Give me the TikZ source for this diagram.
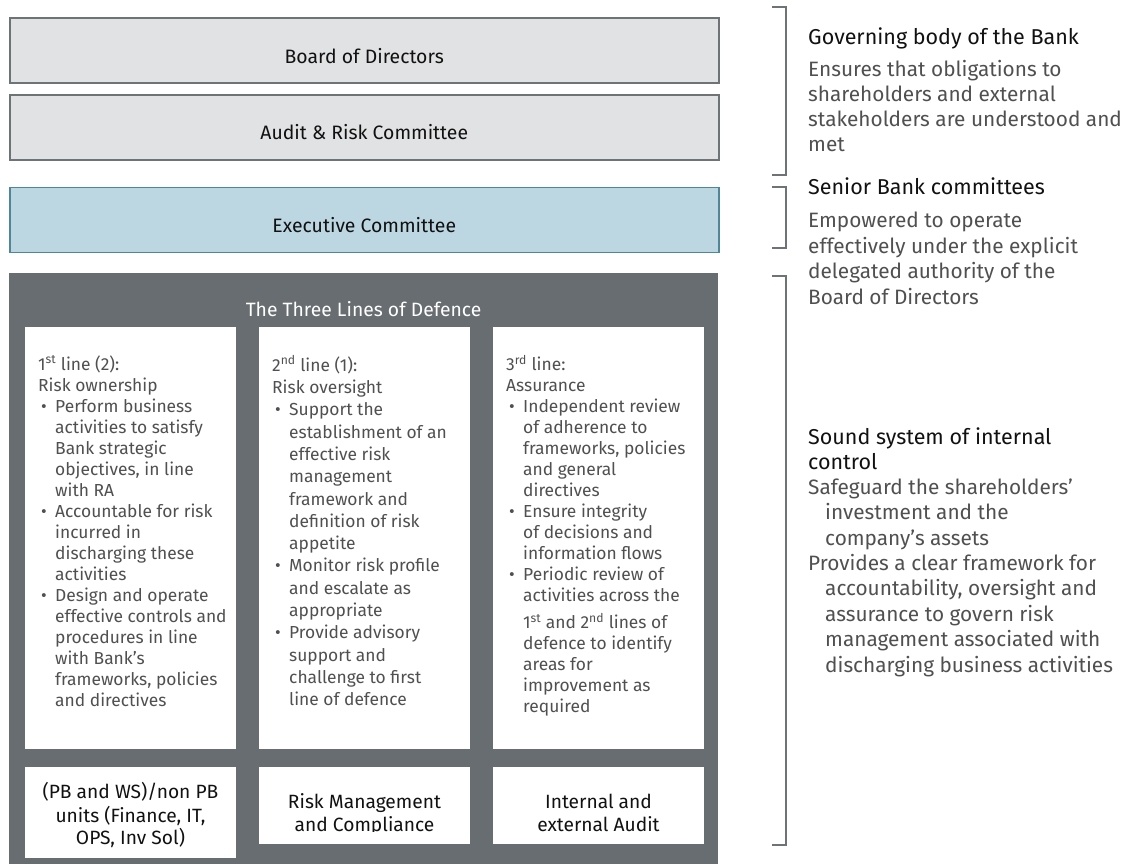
\documentclass[tikz,border=0pt]{standalone}
\usepackage{fontspec}
\setmainfont{Fira Sans}
\definecolor{boxgray}{HTML}{E1E2E4}
\definecolor{edgegray}{HTML}{6E7377}
\definecolor{execblue}{HTML}{BCD7E1}
\definecolor{execedge}{HTML}{4F8799}
\definecolor{panelgray}{HTML}{676D70}
\definecolor{bodytext}{HTML}{505050}
\definecolor{headtext}{HTML}{111111}
\newcommand\bul{\makebox[17pt][l]{\hspace*{3pt}•}}
\newcommand\ind{\hspace*{17pt}}
\newcommand\rind{\hspace*{17pt}}
\begin{document}
\begin{tikzpicture}[x=1pt,y=-1pt,
  govbox/.style={draw=edgegray, line width=1.5pt, fill=boxgray, minimum width=709pt, minimum height=65pt, anchor=north west, inner sep=0pt},
  execbox/.style={govbox, draw=execedge, fill=execblue},
  boxlabel/.style={anchor=base, inner sep=0pt, text=headtext, font=\fontsize{19.4}{22}\selectfont},
  colbox/.style={fill=white, draw=none, minimum width=211pt, anchor=north west, inner sep=0pt},
  coltext/.style={anchor=north west, inner sep=0pt, align=left, text=bodytext},
  unitlabel/.style={anchor=north, inner sep=0pt, align=center, text=headtext, font=\fontsize{19.2}{22.5}\selectfont},
  rhead/.style={anchor=base west, inner sep=0pt, align=left, text=headtext, font=\fontsize{21.5}{25}\selectfont},
  rbody/.style={anchor=north west, inner sep=0pt, align=left, text=bodytext},
  bracket/.style={draw=edgegray, line width=2pt}
]
\useasboundingbox (0,0) rectangle (1127,863);
\fill[white] (0,0) rectangle (1127,863);

% governance boxes
\node[govbox] (board) at (9,17.3) {};
\node[boxlabel] (boardlbl) at ([yshift=-13pt]board.center) {Board of Directors};
\node[govbox] (audit) at (9,94) {};
\node[boxlabel] (auditlbl) at ([yshift=-12.3pt]audit.center) {Audit \& Risk Committee};
\node[execbox] (exec) at (9,186.7) {};
\node[boxlabel] (execlbl) at ([yshift=-12.2pt]exec.center) {Executive Committee};

% dark panel
\node[fill=panelgray, draw=none, minimum width=709pt, minimum height=595pt, anchor=north west, inner sep=0pt] (panel) at (9,272.7) {};
\node[anchor=base, inner sep=0pt, text=white, font=\fontsize{19.3}{22}\selectfont] (title) at (363.5,316.7) {The Three Lines of Defence};

% columns
\node[colbox, minimum height=422pt] (c1) at (25,327) {};
\node[colbox, minimum height=422pt] (c2) at (259,327) {};
\node[colbox, minimum height=422pt] (c3) at (493,327) {};

\node[coltext, font=\fontsize{17.4}{21}\selectfont] (t1) at (38,355.3) {\strut 1\textsuperscript{st} line (2):\\
Risk ownership\\
\bul Perform business\\
\ind activities to satisfy\\
\ind Bank strategic\\
\ind objectives, in line\\
\ind with RA\\
\bul Accountable for risk\\
\ind incurred in\\
\ind discharging these\\
\ind activities\\
\bul Design and operate\\
\ind effective controls and\\
\ind procedures in line\\
\ind with Bank’s\\
\ind frameworks, policies\\
\ind and directives};

\node[coltext, font=\fontsize{17.4}{22.3}\selectfont] (t2) at (272,355.4) {\strut 2\textsuperscript{nd} line (1):\\
Risk oversight\\
\bul Support the\\
\ind establishment of an\\
\ind effective risk\\
\ind management\\
\ind framework and\\
\ind definition of risk\\
\ind appetite\\
\bul Monitor risk profile\\
\ind and escalate as\\
\ind appropriate\\
\bul Provide advisory\\
\ind support and\\
\ind challenge to first\\
\ind line of defence};

\node[coltext, font=\fontsize{17.4}{21}\selectfont] (t3) at (506,355.3) {\strut 3\textsuperscript{rd} line:\\
Assurance\\
\bul Independent review\\
\ind of adherence to\\
\ind frameworks, policies\\
\ind and general\\
\ind directives\\
\bul Ensure integrity\\
\ind of decisions and\\
\ind information flows\\
\bul Periodic review of\\
\ind activities across the\\[6pt]
\ind 1\textsuperscript{st} and 2\textsuperscript{nd} lines of\\
\ind defence to identify\\
\ind areas for\\
\ind improvement as\\
\ind required};

% unit boxes
\node[colbox, minimum height=91pt] (u1) at (25,767) {};
\node[colbox, minimum height=76.5pt] (u2) at (259,767) {};
\node[colbox, minimum height=76.5pt] (u3) at (493,767) {};
\node[unitlabel] (u1lbl) at (130.5,781.8) {\strut(PB and WS)/non PB\\units (Finance, IT,\\OPS, Inv Sol)};
\begin{scope}
\clip (250,770) rectangle (712,831.8);
\node[unitlabel] (u2lbl) at (364.5,792.8) {\strut Risk Management\\and Compliance};
\node[unitlabel] (u3lbl) at (598.5,792.8) {\strut Internal and\\external Audit};
\end{scope}

% brackets
\coordinate (br1a) at (772,7);
\coordinate (br1b) at (786,175);
\draw[bracket] (br1a) -| (br1b) -- (772,175);
\coordinate (br2a) at (772,187);
\coordinate (br2b) at (786,248);
\draw[bracket] (br2a) -| (br2b) -- (772,248);
\coordinate (br3a) at (772,276);
\coordinate (br3b) at (786,845);
\draw[bracket] (br3a) -| (br3b) -- (772,845);

% right-hand text
\node[rhead] (h1) at (808,44.3) {Governing body of the Bank};
\node[rbody, font=\fontsize{20.8}{25}\selectfont] (r1) at (808,59) {\strut Ensures that obligations to\\
shareholders and external\\
stakeholders are understood and\\
met};
\node[rhead] (h2) at (808,194.3) {Senior Bank committees};
\node[rbody, font=\fontsize{20.8}{25.6}\selectfont] (r2) at (808,209.3) {\strut Empowered to operate\\
effectively under the explicit\\
delegated authority of the\\
Board of Directors};
\node[rhead, anchor=north west] (h3) at (808,426.3) {\strut Sound system of internal\\control};
\node[rbody, font=\fontsize{20.8}{25.4}\selectfont] (r3) at (808,476.4) {\strut Safeguard the shareholders’\\
\rind investment and the\\
\rind company’s assets\\
Provides a clear framework for\\
\rind accountability, oversight and\\
\rind assurance to govern risk\\
\rind management associated with\\
\rind discharging business activities};
\end{tikzpicture}
\end{document}
